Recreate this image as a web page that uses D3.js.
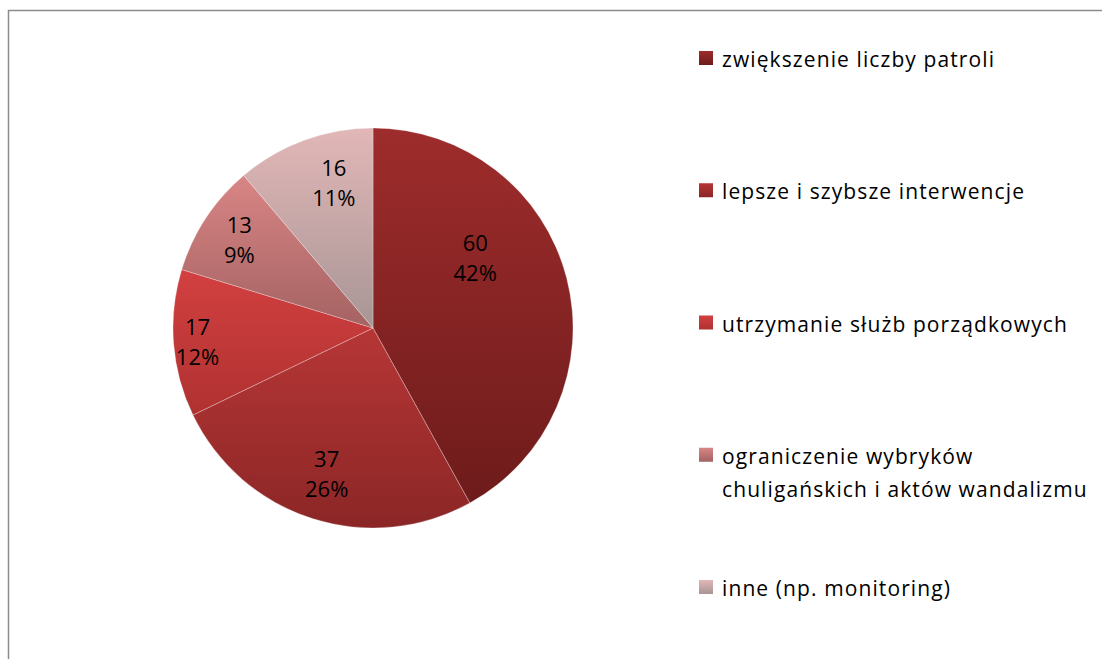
<!DOCTYPE html>
<html><head><meta charset="utf-8">
<script src="https://cdn.jsdelivr.net/npm/d3@7"></script>
<style>html,body{margin:0;padding:0;background:#fff;overflow:hidden}</style>
</head><body>
<svg id="c" width="1102" height="659"></svg>
<script>
const categories = ["zwiększenie liczby patroli","lepsze i szybsze interwencje","utrzymanie służb porządkowych","ograniczenie wybryków chuligańskich i aktów wandalizmu","inne (np. monitoring)"];
const legendLines = [["zwiększenie liczby patroli"],["lepsze i szybsze interwencje"],["utrzymanie służb porządkowych"],["ograniczenie wybryków","chuligańskich i aktów wandalizmu"],["inne (np. monitoring)"]];
const values = [60,37,17,13,16];
const percentLabels = ["42%","26%","12%","9%","11%"];
const topColors = ["#9e2c2c","#b73636","#d24040","#d98585","#e2b7b7"];
const bottomColors = ["#6e1b1b","#8b2626","#b03131","#a46262","#a89595"];
// label placement tweaks (layout, not data)
const labelRadius = [124,153,176,160,150];
const labelAngleShift = [-20,0,0,0,5];

const svg = d3.select("#c");
const defs = svg.append("defs");
topColors.forEach((c,i)=>{
  const g = defs.append("linearGradient").attr("id","g"+i).attr("x1",0).attr("y1",0).attr("x2",0).attr("y2",1);
  g.append("stop").attr("offset","0%").attr("stop-color",c);
  g.append("stop").attr("offset","100%").attr("stop-color",bottomColors[i]);
});

svg.append("rect").attr("x",8.5).attr("y",10.5).attr("width",1200).attr("height",800)
  .attr("fill","none").attr("stroke","#8c8c8c").attr("stroke-width",1.5);

const cx = 373, cy = 328, R = 200;
const pie = d3.pie().value(d=>d).sort(null);
const arcs = pie(values);
const arc = d3.arc().innerRadius(0).outerRadius(R);
const g = svg.append("g").attr("transform",`translate(${cx},${cy})`);
g.selectAll("path").data(arcs).join("path")
  .attr("d",arc).attr("fill",(d,i)=>`url(#g${i})`)
  .attr("stroke","rgba(255,255,255,0.35)").attr("stroke-width",0.8);

const font = "'Open Sans', sans-serif";
arcs.forEach((d,i)=>{
  const a = (d.startAngle+d.endAngle)/2 + labelAngleShift[i]*Math.PI/180;
  const r = labelRadius[i];
  const x = r*Math.sin(a), y = -r*Math.cos(a);
  const t = g.append("text").attr("text-anchor","middle").attr("font-family",font).attr("font-size",22).attr("fill","#000");
  t.append("tspan").attr("x",x).attr("y",y-7).text(values[i]);
  t.append("tspan").attr("x",x).attr("y",y+23).text(percentLabels[i]);
});

const ly = d3.scalePoint().domain(d3.range(categories.length)).range([67,596]);
const leg = svg.append("g");
categories.forEach((c,i)=>{
  const y = ly(i);
  leg.append("rect").attr("x",699).attr("y",y-16).attr("width",14).attr("height",14).attr("fill",`url(#g${i})`);
  const t = leg.append("text").attr("font-family",font).attr("font-size",21).attr("letter-spacing",1.1).attr("fill","#000");
  legendLines[i].forEach((l,j)=>t.append("tspan").attr("x",722).attr("y",y+j*33).text(l));
});
</script>
</body></html>
